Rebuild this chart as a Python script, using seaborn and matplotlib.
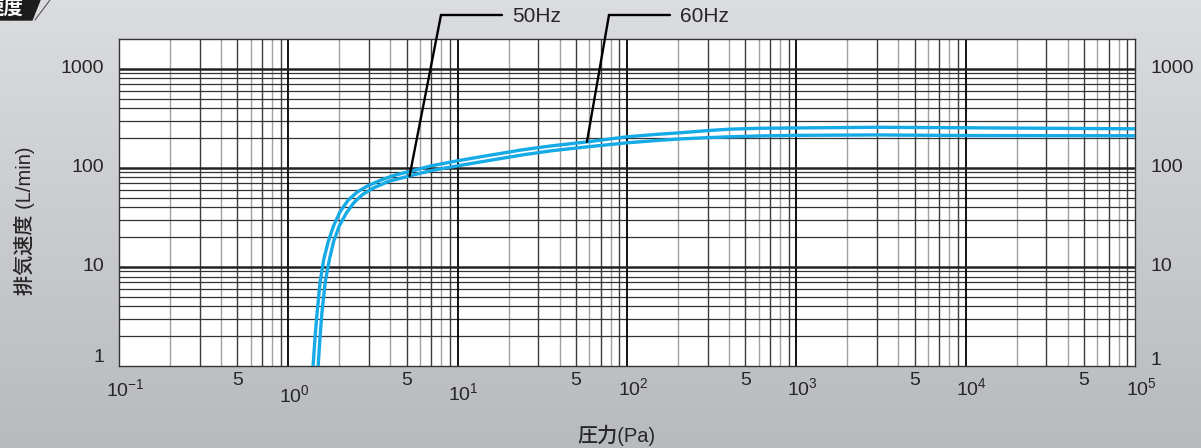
import numpy as np
import pandas as pd
import matplotlib
matplotlib.use("Agg")
import matplotlib.pyplot as plt
import matplotlib.transforms as mtransforms
from matplotlib.lines import Line2D
from matplotlib.patches import Polygon
import seaborn as sns

# ==========================================
# Data
# ==========================================

p_50hz = [1.50, 1.54, 1.58, 1.65, 1.75, 1.85, 2.00, 2.20, 2.45, 2.75, 3.2, 3.9, 5.2, 7.0, 10,
          15, 24, 36, 58, 100, 150, 205, 300, 406, 600, 1000, 3000, 10000, 100000]
s_50hz = [1, 2, 3.5, 7, 12, 18, 26, 35, 45, 54, 63, 73, 83, 94, 105,
          118, 135, 149, 163, 179, 189, 196, 202, 206, 210, 213, 215, 212, 211]

p_60hz = [1.40, 1.44, 1.48, 1.54, 1.62, 1.72, 1.85, 2.02, 2.25, 2.55, 2.9, 3.5, 4.2, 5.2, 7.0, 10,
          15, 24, 36, 58, 100, 150, 205, 300, 406, 600, 1000, 3000, 10000, 100000]
s_60hz = [1, 2, 3.5, 7, 12, 18, 26, 36, 47, 57, 65, 75, 84, 92, 105, 118,
          133, 152, 167, 183, 206, 218, 226, 238, 246, 251, 253, 257, 254, 248]

# leader anchor points on the curves
label_50hz = (5.2, 83)
label_60hz = (58, 183)

x_decades = [0.1, 1, 10, 100, 1000, 10000, 100000]
x_decade_labels = [r"$\mathregular{10^{-1}}$", r"$\mathregular{10^{0}}$", r"$\mathregular{10^{1}}$",
                   r"$\mathregular{10^{2}}$", r"$\mathregular{10^{3}}$", r"$\mathregular{10^{4}}$",
                   r"$\mathregular{10^{5}}$"]
x_fives = [0.5, 5, 50, 500, 5000, 50000]
y_decades = [1, 10, 100, 1000]
y_labels = ["1", "10", "100", "1000"]

df = pd.concat([
    pd.DataFrame({"P": p_50hz, "S": s_50hz, "freq": "50Hz"}),
    pd.DataFrame({"P": p_60hz, "S": s_60hz, "freq": "60Hz"}),
])

# ==========================================
# Style
# ==========================================

sns.set_theme(style="white")
plt.rcParams["font.family"] = ["Liberation Sans", "Noto Sans CJK JP"]
plt.rcParams["mathtext.fontset"] = "custom"
plt.rcParams["mathtext.rm"] = "Liberation Sans"

W, H = 1201, 448
fig = plt.figure(figsize=(W / 100, H / 100), dpi=100)

# metallic gray background
bg = fig.add_axes([0, 0, 1, 1], zorder=-10)
top = np.array([0.86, 0.865, 0.875])
bot = np.array([0.72, 0.73, 0.745])
t = np.linspace(0, 1, 200)[:, None]
grad = top + (bot - top) * t
bg.imshow(np.repeat(grad[:, None, :], 2, axis=1), aspect="auto", extent=[0, 1, 0, 1])
bg.set_xlim(0, 1)
bg.set_ylim(0, 1)
bg.axis("off")

# header tab (cut off at the top-left corner)
fig.add_artist(Polygon([[0, 1], [40 / W, 1], [32 / W, 1 - 20 / H], [0, 1 - 20 / H]],
                       closed=True, transform=fig.transFigure, color="#1c1c1c"))
fig.add_artist(Line2D([50 / W, 35 / W], [1, 1 - 20 / H], transform=fig.transFigure,
                      color="#555555", lw=0.8))
fig.text(24 / W, 1 - 8 / H, "速度", color="white", fontsize=14, fontweight="bold",
         ha="right", va="center")

# ==========================================
# Plot
# ==========================================

ax = fig.add_axes([119 / W, 1 - 366 / H, 1016 / W, 327 / H])
ax.set_facecolor("white")
ax.set_xscale("log")
ax.set_yscale("log")
ax.set_xlim(0.1, 1e5)
ax.set_ylim(1, 2000)

# log grid
for dec in x_decades[:-1]:
    for m in range(2, 10):
        c = "#a0a0a0" if m % 2 == 0 else "#3c3c3c"
        ax.axvline(m * dec, color=c, lw=1.0, zorder=1)
for dec in x_decades[1:-1]:
    ax.axvline(dec, color="black", lw=1.3, zorder=1.5)
for dec in y_decades:
    for m in range(2, 10):
        if m * dec < 2000:
            ax.axhline(m * dec, color="#333333", lw=0.9, zorder=1)
for dec in y_decades[1:]:
    ax.axhline(dec, color="#222222", lw=1.8, zorder=1.5)

sns.lineplot(data=df, x="P", y="S", hue="freq",
             palette={"50Hz": "#16aae6", "60Hz": "#16aae6"},
             estimator=None, sort=False, lw=2.4, legend=False, ax=ax, zorder=3)

ax.set_xlabel("")
ax.set_ylabel("")
ax.tick_params(which="both", length=0, labelbottom=False, labelleft=False)
for s in ax.spines.values():
    s.set_color("#333333")
    s.set_linewidth(1.0)

# x tick labels
xtr = ax.get_xaxis_transform()
x_dy = [-23, -29, -27, -22, -22, -22, -22]
for v, lab, dy in zip(x_decades, x_decade_labels, x_dy):
    ax.text(v, 0, lab, fontsize=14, ha="center", va="center",
            transform=mtransforms.offset_copy(xtr, fig=fig, x=6, y=dy, units="dots"))
for v in x_fives:
    ax.text(v, 0, "5", fontsize=14, ha="center", va="center",
            transform=mtransforms.offset_copy(xtr, fig=fig, x=0, y=-14, units="dots"))

# y tick labels, both sides
ytr = ax.get_yaxis_transform()
for v, lab in zip(y_decades, y_labels):
    dy = 9 if v == 1 else 0
    ax.text(0, v, lab, fontsize=14, ha="right", va="center",
            transform=mtransforms.offset_copy(ytr, fig=fig, x=-15, y=dy, units="dots"))
    dy = 6 if v == 1 else 0
    ax.text(1, v, lab, fontsize=14, ha="left", va="center",
            transform=mtransforms.offset_copy(ytr, fig=fig, x=15, y=dy, units="dots"))

# leaders
for (pt, corner_x, end_x, text_x, lab) in [(label_50hz, 441, 502, 512, "50Hz"),
                                           (label_60hz, 609, 670, 680, "60Hz")]:
    ax.annotate("", xy=pt, xycoords="data", xytext=(corner_x, H - 15),
                textcoords="figure pixels",
                arrowprops=dict(arrowstyle="-", lw=1.7, color="black", shrinkA=0, shrinkB=0),
                zorder=4, annotation_clip=False)
    fig.add_artist(Line2D([corner_x / W, end_x / W], [1 - 15 / H, 1 - 15 / H],
                          transform=fig.transFigure, color="black", lw=1.7))
    fig.text(text_x / W, 1 - 16 / H, lab, fontsize=15, ha="left", va="center")

# axis titles
fig.text(24 / W, 1 - 221 / H, "排気速度 (L/min)", rotation=90, fontsize=14.5,
         fontweight="medium", ha="center", va="center")
fig.text(616 / W, 1 - 435 / H, "圧力(Pa)", fontsize=14.5, fontweight="medium",
         ha="center", va="center")

fig.savefig("out.png", dpi=100)
